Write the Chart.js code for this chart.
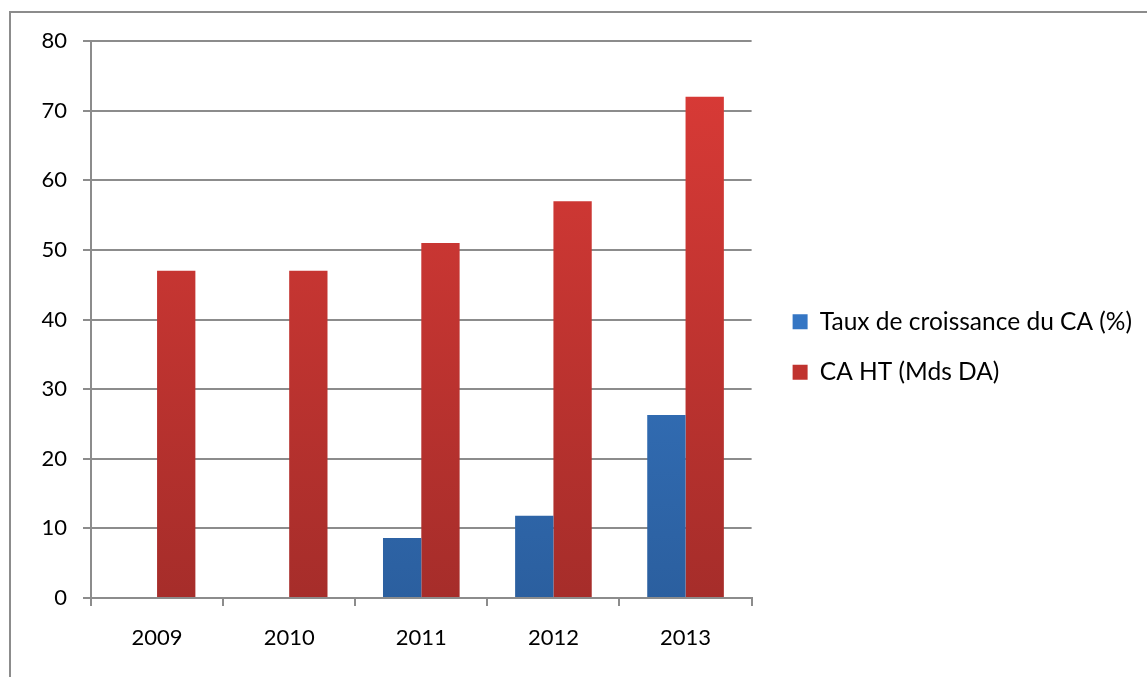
<!DOCTYPE html>
<html>
<head>
<meta charset="utf-8">
<script src="https://cdn.jsdelivr.net/npm/chart.js@4.4.0/dist/chart.umd.min.js"></script>
<style>
    html, body { margin: 0; padding: 0; background: #fff; overflow: hidden; }
    #frame {
        position: absolute; left: 9px; top: 11px; width: 1200px; height: 700px;
        border-left: 2px solid #8c8c8c; border-top: 2px solid #8c8c8c;
    }
    #wrap { position: absolute; left: 0; top: 0; width: 1147px; height: 677px; }
</style>
</head>
<body>
<div id="frame"></div>
<div id="wrap"><canvas id="caChart" width="1147" height="677"></canvas></div>
<script>
// Chiffre d'affaires et taux de croissance, 2009-2013
const years = ['2009', '2010', '2011', '2012', '2013'];
const tauxCroissance = [null, null, 8.6, 11.8, 26.3];
const caHT = [47, 47, 51, 57, 72];
const yTicks = [0, 10, 20, 30, 40, 50, 60, 70, 80];

const gridColor = '#8c8c8c';
const fontFamily = "Lato, 'Open Sans', sans-serif";
const fontSize = 22;

/**
 * Vertical gradient for a bar series, light at the top, darker at the base.
 */
function barGradient(top, bottom) {
    return function(context) {
        const area = context.chart.chartArea;
        if (!area) return bottom;
        const g = context.chart.ctx.createLinearGradient(0, area.top, 0, area.bottom);
        g.addColorStop(0, top);
        g.addColorStop(1, bottom);
        return g;
    };
}

/**
 * Leaves a little more room between the plot and the legend.
 */
const legendGap = {
    id: 'legendGap',
    afterLayout: function(chart) {
        chart.legend.left += 15;
        chart.legend.right += 15;
    }
};

var caChart = new Chart(document.getElementById('caChart').getContext('2d'), {
    type: 'bar',
    data: {
        labels: years,
        datasets: [{
            label: 'Taux de croissance du CA (%)',
            data: tauxCroissance,
            backgroundColor: barGradient('#3c82d4', '#2b5f9f'),
            borderWidth: 0,
            categoryPercentage: 0.58,
            barPercentage: 1
        }, {
            label: 'CA HT (Mds DA)',
            data: caHT,
            backgroundColor: barGradient('#dc3b37', '#a62d2a'),
            borderWidth: 0,
            categoryPercentage: 0.58,
            barPercentage: 1
        }]
    },
    plugins: [legendGap],
    options: {
        responsive: false,
        animation: false,
        layout: { padding: { top: 41, right: 20, bottom: 24, left: 0 } },
        plugins: {
            tooltip: { enabled: false },
            legend: {
                position: 'right',
                align: 'center',
                maxWidth: 420,
                labels: {
                    boxWidth: 15,
                    boxHeight: 15,
                    padding: 26,
                    color: '#000',
                    font: { family: fontFamily, size: 24.5 },
                    generateLabels: function(chart) {
                        const fills = ['#3576c4', '#c0332f'];
                        return chart.data.datasets.map(function(ds, i) {
                            return {
                                text: ds.label,
                                fillStyle: fills[i],
                                strokeStyle: fills[i],
                                lineWidth: 0,
                                datasetIndex: i,
                                hidden: false
                            };
                        });
                    }
                }
            }
        },
        scales: {
            x: {
                offset: true,
                grid: {
                    offset: true,
                    drawOnChartArea: false,
                    drawTicks: true,
                    tickLength: 8,
                    color: gridColor,
                    lineWidth: 2
                },
                border: { display: true, color: gridColor, width: 2 },
                ticks: {
                    color: '#000',
                    padding: 19,
                    font: { family: fontFamily, size: fontSize }
                },
                afterFit: function(scale) { scale.height = 55; }
            },
            y: {
                min: 0,
                max: 80,
                afterBuildTicks: function(scale) {
                    scale.ticks = yTicks.map(function(v) { return { value: v }; });
                },
                grid: {
                    color: gridColor,
                    lineWidth: 2,
                    tickLength: 8
                },
                border: { display: true, color: gridColor, width: 2 },
                ticks: {
                    color: '#000',
                    padding: 16,
                    font: { family: fontFamily, size: fontSize }
                },
                afterFit: function(scale) { scale.width = 91; }
            }
        }
    }
});
</script>
</body>
</html>
